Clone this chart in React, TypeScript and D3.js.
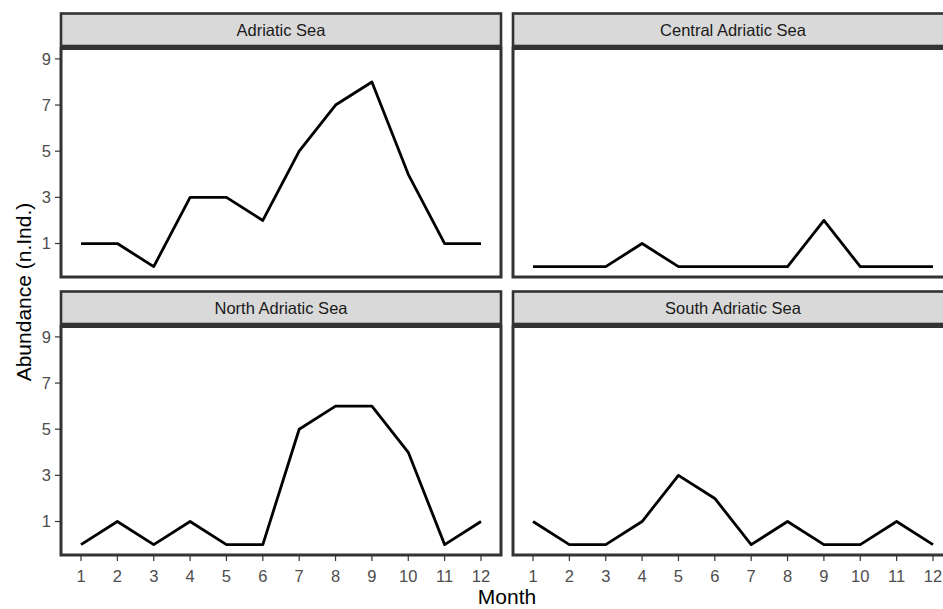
import React, { useRef, useEffect } from "react";
import { select, scaleLinear, line } from "d3";

// monthly abundance per area
const months = [1, 2, 3, 4, 5, 6, 7, 8, 9, 10, 11, 12];
const facetNames = [
  "Adriatic Sea",
  "Central Adriatic Sea",
  "North Adriatic Sea",
  "South Adriatic Sea",
];
const adriatic = [1, 1, 0, 3, 3, 2, 5, 7, 8, 4, 1, 1];
const central = [0, 0, 0, 1, 0, 0, 0, 0, 2, 0, 0, 0];
const north = [0, 1, 0, 1, 0, 0, 5, 6, 6, 4, 0, 1];
const south = [1, 0, 0, 1, 3, 2, 0, 1, 0, 0, 1, 0];
const yTicks = [1, 3, 5, 7, 9];

const App = () => {
  const svgRef = useRef(null);

  useEffect(() => {
    const width = 943;
    const height = 609;
    const font = "Liberation Sans, Arial, sans-serif";
    const dark = "#333333";
    const colX = [61, 513];
    const panelW = 440;
    const stripTop = 13.5;
    const stripH = 32.5;
    const stripGap = 2.5;
    const panelH = 228.5;
    const rowStep = 278;

    const svg = select(svgRef.current)
      .attr("width", width)
      .attr("height", height);
    svg.selectAll("*").remove();

    const x = scaleLinear().domain([0.45, 12.55]).range([0, panelW]);
    const y = scaleLinear().domain([-0.45, 9.45]).range([panelH, 0]);
    const path = line()
      .x((d, i) => x(months[i]))
      .y((d) => y(d));

    const series = [adriatic, central, north, south];

    series.forEach((values, k) => {
      const col = k % 2;
      const row = Math.floor(k / 2);
      const left = colX[col];
      const sTop = stripTop + row * rowStep;
      const pTop = sTop + stripH + stripGap;

      const g = svg.append("g").attr("transform", `translate(${left},${pTop})`);

      // strip
      svg
        .append("rect")
        .attr("x", left)
        .attr("y", sTop)
        .attr("width", panelW)
        .attr("height", stripH)
        .attr("fill", "#d9d9d9")
        .attr("stroke", dark)
        .attr("stroke-width", 2.6);
      svg
        .append("text")
        .attr("x", left + panelW / 2)
        .attr("y", sTop + stripH / 2 + 0.5)
        .attr("dy", "0.35em")
        .attr("text-anchor", "middle")
        .attr("font-family", font)
        .attr("font-size", 16.5)
        .attr("fill", "#1a1a1a")
        .text(facetNames[k]);

      g.append("path")
        .datum(values)
        .attr("d", path)
        .attr("fill", "none")
        .attr("stroke", "#000")
        .attr("stroke-width", 2.8)
        .attr("stroke-linejoin", "round");

      g.append("rect")
        .attr("width", panelW)
        .attr("height", panelH)
        .attr("fill", "none")
        .attr("stroke", dark)
        .attr("stroke-width", 3);

      if (col === 0) {
        const yt = g.selectAll(".ytick").data(yTicks).join("g").attr("class", "ytick");
        yt.append("line")
          .attr("x1", -6)
          .attr("x2", 0)
          .attr("y1", (d) => y(d))
          .attr("y2", (d) => y(d))
          .attr("stroke", dark)
          .attr("stroke-width", 1.2);
        yt.append("text")
          .attr("x", -10)
          .attr("y", (d) => y(d))
          .attr("dy", "0.36em")
          .attr("text-anchor", "end")
          .attr("font-family", font)
          .attr("font-size", 16.5)
          .attr("fill", "#4d4d4d")
          .text((d) => d);
      }

      if (row === 1) {
        const xt = g.selectAll(".xtick").data(months).join("g").attr("class", "xtick");
        xt.append("line")
          .attr("x1", (d) => x(d))
          .attr("x2", (d) => x(d))
          .attr("y1", panelH)
          .attr("y2", panelH + 6)
          .attr("stroke", dark)
          .attr("stroke-width", 1.2);
        xt.append("text")
          .attr("x", (d) => x(d))
          .attr("y", panelH + 27)
          .attr("text-anchor", "middle")
          .attr("font-family", font)
          .attr("font-size", 16.5)
          .attr("fill", "#4d4d4d")
          .text((d) => d);
      }
    });

    // axis titles
    svg
      .append("text")
      .attr("x", colX[0] + (colX[1] + panelW - colX[0]) / 2)
      .attr("y", 604)
      .attr("text-anchor", "middle")
      .attr("font-family", font)
      .attr("font-size", 21)
      .attr("fill", "#000")
      .text("Month");

    svg
      .append("text")
      .attr("transform", "translate(31,292) rotate(-90)")
      .attr("text-anchor", "middle")
      .attr("font-family", font)
      .attr("font-size", 21)
      .attr("fill", "#000")
      .text("Abundance (n.Ind.)");
  }, []);

  return (
    <div style={{ position: "absolute", left: 0, top: 0, overflow: "hidden" }}>
      <svg ref={svgRef} style={{ display: "block" }}></svg>
    </div>
  );
};

export default App;
